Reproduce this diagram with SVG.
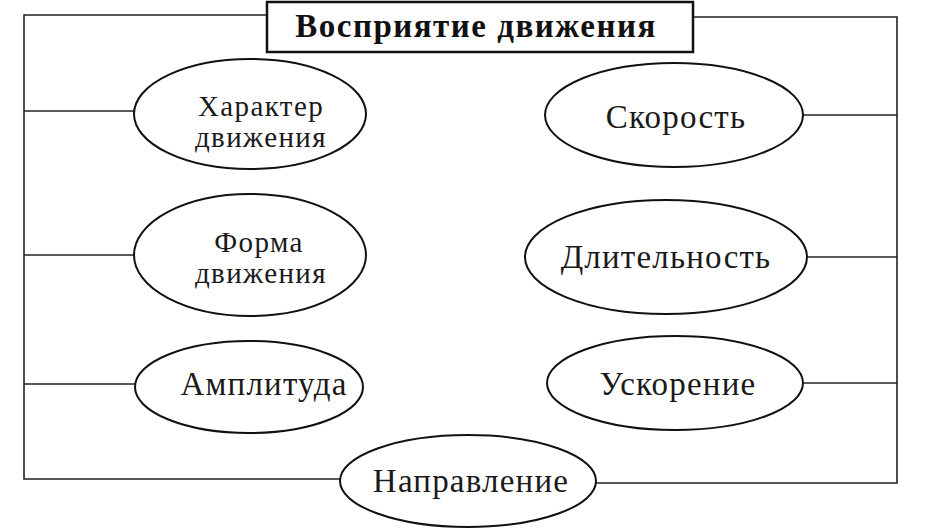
<svg xmlns="http://www.w3.org/2000/svg" width="932" height="530" viewBox="0 0 932 530">
<style>
.bg{fill:#ffffff}
.node ellipse{fill:#ffffff;stroke:#111;stroke-width:2}
.node text{font-family:"Liberation Serif","Times New Roman",serif;font-size:33px;letter-spacing:1.2px;fill:#1a1a1a;text-anchor:middle}
.node text.two{font-size:29px;letter-spacing:1.4px}
.title rect{fill:#ffffff;stroke:#111;stroke-width:2.5}
.title text{font-family:"Liberation Serif","Times New Roman",serif;font-size:33px;letter-spacing:1.5px;font-weight:bold;fill:#111;text-anchor:middle}
.conn path{fill:none;stroke:#222;stroke-width:1.6}
</style>
<rect class="bg" x="0" y="0" width="932" height="530"/>
<g id="connectors" class="conn">
<path d="M267,15 H24 V479 H340"/>
<path d="M24,111 H135"/>
<path d="M24,255 H135"/>
<path d="M24,384 H135"/>
<path d="M693,17 H897 V483 H596"/>
<path d="M803,115 H897"/>
<path d="M807,257 H897"/>
<path d="M803,383 H897"/>
</g>
<g id="title" class="title">
<rect x="267" y="2" width="426" height="50"/>
<text x="476" y="37">Восприятие движения</text>
</g>
<g id="node-harakter" class="node">
<ellipse cx="250" cy="114" rx="116" ry="55"/>
<text class="two" x="261" y="116">Характер</text>
<text class="two" x="261" y="147">движения</text>
</g>
<g id="node-forma" class="node">
<ellipse cx="250" cy="255" rx="116" ry="61"/>
<text class="two" x="259" y="252">Форма</text>
<text class="two" x="261" y="283">движения</text>
</g>
<g id="node-amplituda" class="node">
<ellipse cx="249" cy="387" rx="114" ry="46"/>
<text x="264" y="395">Амплитуда</text>
</g>
<g id="node-skorost" class="node">
<ellipse cx="674" cy="115" rx="129" ry="52"/>
<text x="676" y="128">Скорость</text>
</g>
<g id="node-dlitelnost" class="node">
<ellipse cx="666" cy="257" rx="141" ry="57"/>
<text x="666" y="268">Длительность</text>
</g>
<g id="node-uskorenie" class="node">
<ellipse cx="675" cy="383" rx="128" ry="47"/>
<text x="678" y="395">Ускорение</text>
</g>
<g id="node-napravlenie" class="node">
<ellipse cx="468" cy="481" rx="128" ry="46"/>
<text x="471" y="492">Направление</text>
</g>
</svg>
